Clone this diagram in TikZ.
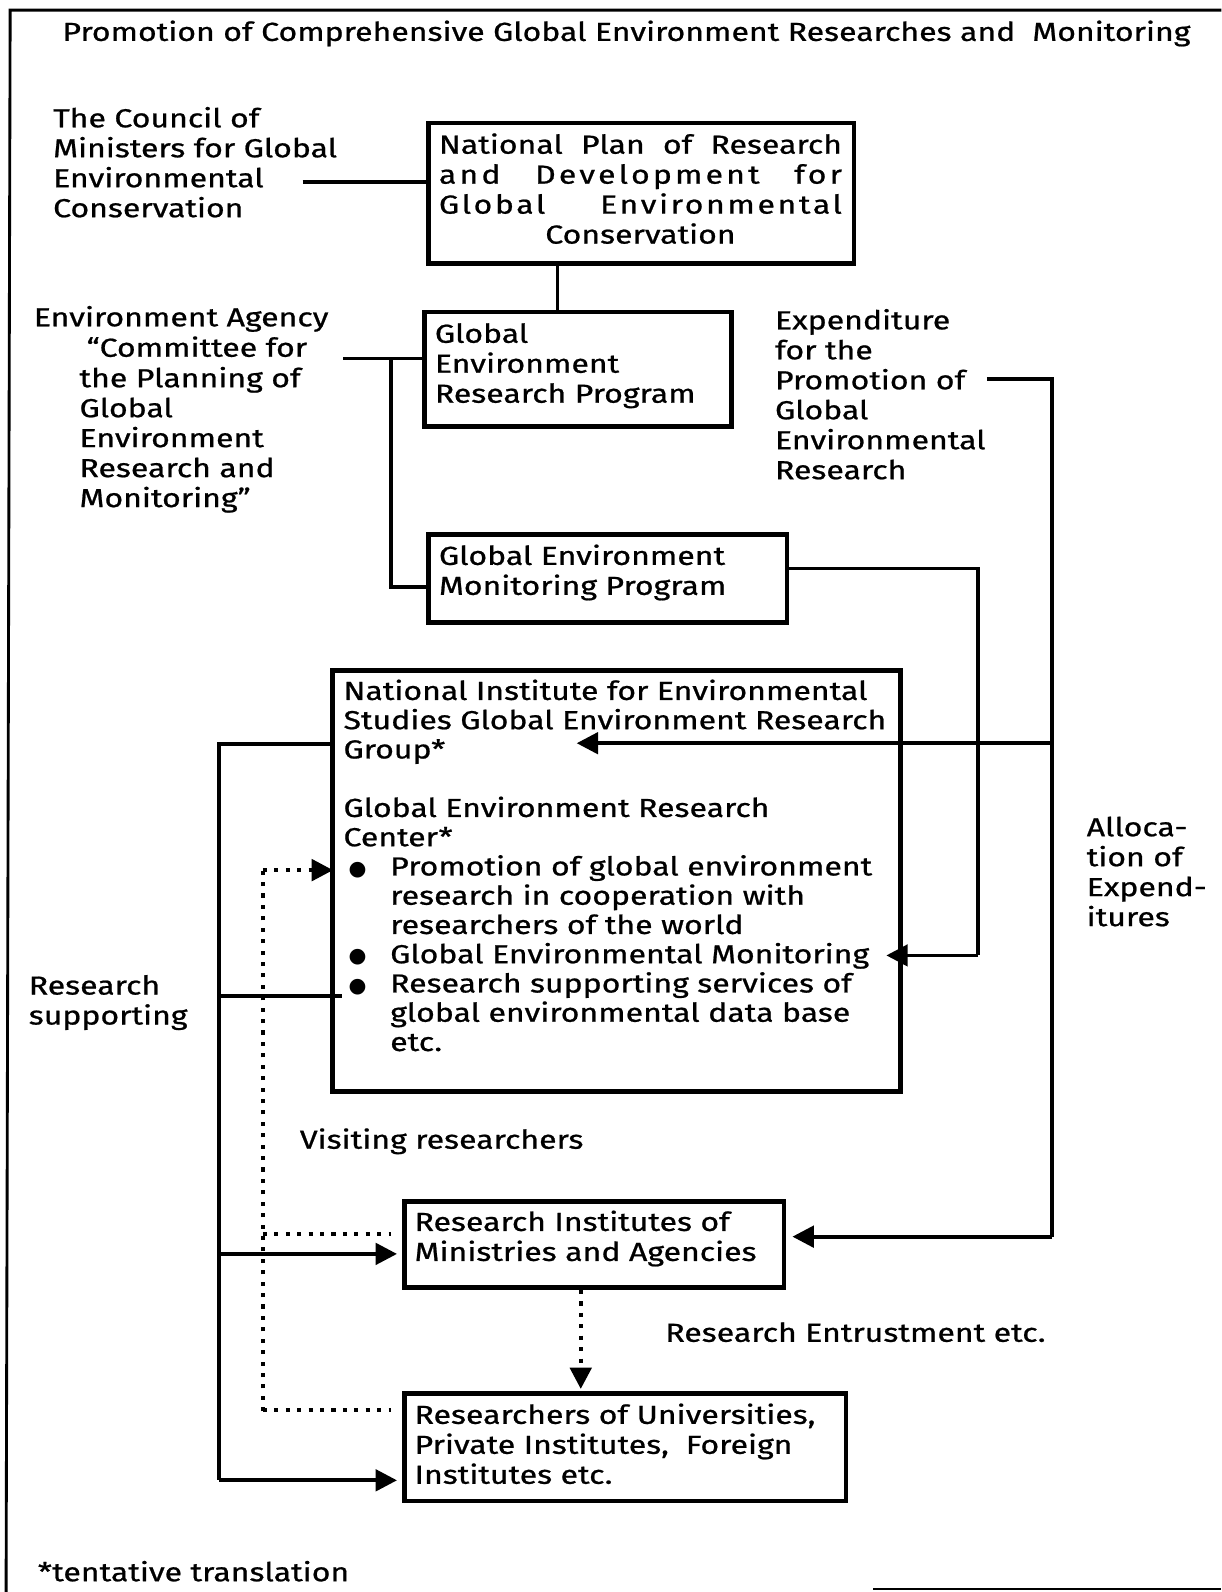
\documentclass[tikz,border=0pt]{standalone}
\usepackage{fontspec}
\setmainfont{Fira Sans}[FakeStretch=1.23, FakeBold=0.8]
\newfontfamily\symfont{DejaVu Sans}
\usetikzlibrary{arrows.meta}
\newcommand\bodyfont{\fontsize{14.6}{16.8}\selectfont}
\newcommand\niesfont{\fontsize{14.6}{16.4}\selectfont}
\newcommand\bul{\makebox[0.92cm][l]{\hspace{0.1cm}\raisebox{0.2pt}{\symfont\fontsize{11.5}{11.5}\selectfont ●}}}
\newcommand\ind{\hspace*{0.92cm}}
\begin{document}
\begin{tikzpicture}[x=0.02cm,y=-0.02cm,
  box/.style={draw, line width=2.6pt, inner sep=0pt, anchor=north west},
  txt/.style={anchor=north west, inner sep=0pt, align=left, font=\bodyfont},
  conn/.style={line width=2.1pt},
  dots/.style={line width=2.3pt, dash pattern=on 2.3pt off 4.1pt},
  tip/.style={-{Triangle[length=0.42cm,width=0.42cm]}},
  frame/.style={line width=1.6pt}
]
\useasboundingbox (0,0) rectangle (1203,1568);
% frame
\draw[frame] (6,1568) -- (10,10) -- (1203,10);
\draw[frame] (860,1565) -- (1203,1565);

% title
\node[anchor=center, inner sep=0pt, font=\fontsize{14.6}{18}\selectfont] (title) at (617,33)
  {Promotion of Comprehensive Global Environment Researches and\ \ Monitoring};

% boxes
\node[box, minimum width=8.38cm, minimum height=2.76cm] (np) at (420,119) {};
\node[box, minimum width=6.04cm, minimum height=2.26cm] (gerp) at (416,305) {};
\node[box, minimum width=7.06cm, minimum height=1.74cm] (gemp) at (420,524) {};
\node[box, minimum width=11.2cm, minimum height=8.3cm] (nies) at (325,658) {};
\node[box, minimum width=7.48cm, minimum height=1.7cm] (ri) at (396,1181) {};
\node[box, minimum width=8.7cm, minimum height=2.12cm] (ru) at (396,1370) {};

% box texts
\node[txt] (nptext) at (432,131) {%
  \makebox[7.94cm][s]{National Plan of Research}\\
  \makebox[7.94cm][s]{\addfontfeature{LetterSpace=12}and Development for}\\
  \makebox[7.94cm][s]{\addfontfeature{LetterSpace=10}Global Environmental}\\
  \makebox[7.94cm][c]{Conservation}};
\node[txt] (gerptext) at (428,318) {Global\\Environment\\Research Program};
\node[txt] (gemptext) at (432,536) {Global Environment\\Monitoring Program};
\node[txt, font=\niesfont] (niestext) at (338,669) {%
  National Institute for Environmental\\
  Studies Global Environment Research\\
  Group*\\[16.4pt]
  Global Environment Research\\
  Center*\\
  \bul Promotion of global environment\\
  \ind research in cooperation with\\
  \ind researchers of the world\\
  \bul Global Environmental Monitoring\\
  \bul Research supporting services of\\
  \ind global environmental data base\\
  \ind etc.};
\node[txt] (ritext) at (408,1192) {Research Institutes of\\Ministries and Agencies};
\node[txt] (rutext) at (408,1382) {Researchers of Universities,\\Private Institutes,\ \ Foreign\\Institutes etc.};

% free texts
\node[txt] (council) at (52,105) {The Council of\\Ministers for Global\\Environmental\\Conservation};
\node[txt] (agency1) at (33,301) {Environment Agency};
\node[txt] (agency2) at (85,331) {“Committee for};
\node[txt] (agency3) at (78,361) {the Planning of\\Global\\Environment\\Research and\\Monitoring”};
\node[txt] (expend) at (763,304) {Expenditure\\for the\\Promotion of\\Global\\Environmental\\Research};
\node[txt] (alloc) at (1070,804) {Alloca-\\tion of\\Expend-\\itures};
\node[txt] (support) at (28,960) {Research\\supporting};
\node[txt] (visit) at (295,1111) {Visiting researchers};
\node[txt] (entrust) at (655,1302) {Research Entrustment etc.};
\node[txt] (note) at (37,1537) {*tentative translation};

% coordinates
\coordinate (cA) at (298,179);
\coordinate (eA) at (338,353);
\coordinate (vA) at (385,353);
\coordinate (vB) at (385,578);
\coordinate (nx) at (549,0);
\coordinate (exA) at (972,373);
\coordinate (exB) at (1036,373);
\coordinate (exC) at (1036,1218);
\coordinate (exM) at (1036,732);
\coordinate (grpTip) at (568,732);
\coordinate (gmA) at (963,560);
\coordinate (gmB) at (963,941);
\coordinate (monTip) at (873,941);
\coordinate (lA) at (216,733);
\coordinate (lB) at (216,1458);
\coordinate (lR) at (216,1235);
\coordinate (lS) at (216,981);
\coordinate (lSend) at (337,981);
\coordinate (dA) at (259,857);
\coordinate (dB) at (259,1390);
\coordinate (dTip) at (328,857);
\coordinate (dR) at (259,1215);
\coordinate (dRend) at (385,1215);
\coordinate (dU) at (259,1389);
\coordinate (dUend) at (385,1389);
\coordinate (ex) at (572,0);

% connectors
\draw[conn] (cA) -- (cA -| np.west);
\draw[conn] (np.south -| nx) -- (gerp.north -| nx);
\draw[conn] (eA) -- (eA -| gerp.west);
\draw[conn] (vA) -- (vB) -- (vB -| gemp.west);
\draw[conn] (gmA -| gemp.east) -- (gmA) -- (gmB);
\draw[conn, tip] (gmB) -- (monTip);
\draw[conn] (exA) -- (exB) -- (exC);
\draw[conn, tip] (exC) -- ([xshift=0.12cm]exC -| ri.east);
\draw[conn, tip] (exM) -- (grpTip);
\draw[conn] (lA -| nies.west) -- (lA) -- (lB);
\draw[conn, tip] (lB) -- ([xshift=-0.1cm]lB -| ru.west);
\draw[conn, tip] (lR) -- ([xshift=-0.1cm]lR -| ri.west);
\draw[conn] (lS) -- (lSend);
\draw[dots] (dB) -- (dA);
\draw[dots, tip] (dA) -- (dTip);
\draw[dots] (dR) -- (dRend);
\draw[dots] (dU) -- (dUend);
\draw[dots, tip] (ri.south -| ex) -- ([yshift=0.04cm]ru.north -| ex);
\end{tikzpicture}
\end{document}
